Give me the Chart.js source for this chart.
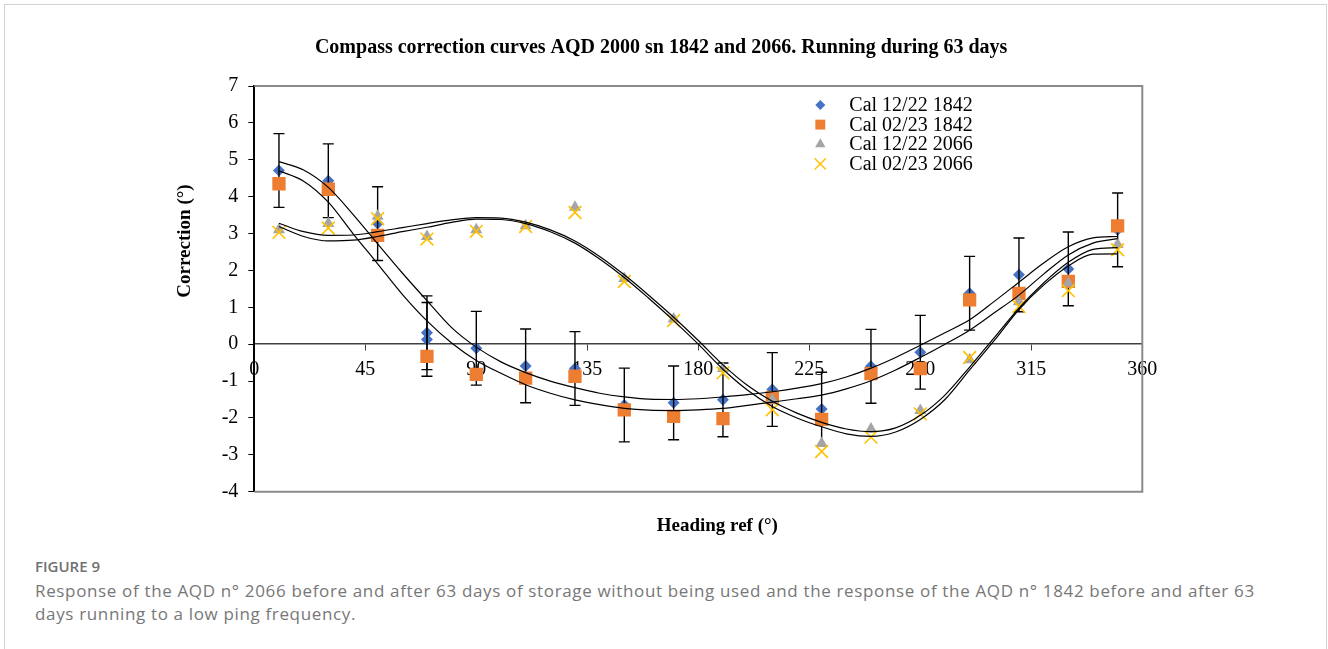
<!DOCTYPE html>
<html>
<head>
<meta charset="utf-8">
<script src="https://cdn.jsdelivr.net/npm/chart.js@4/dist/chart.umd.min.js"></script>
<style>
  html, body { margin: 0; background: #fff; overflow: hidden; }
  .frame { position: absolute; left: 4px; top: 4px; width: 1323px; height: 700px; border: 1px solid #d2d2d2; box-sizing: border-box; }
  .chart { position: absolute; left: 0; top: 0; width: 1328px; height: 545px; }
  .caption { position: absolute; left: 35px; font-family: 'Open Sans', sans-serif; color: #707070; white-space: nowrap; }
  .caption--label { top: 555px; font-size: 15px; font-weight: 600; line-height: 22px; }
  .caption--text { top: 579px; font-size: 17px; line-height: 23px; letter-spacing: 0.65px; color: #777; }
</style>
</head>
<body>
<div class="frame"></div>
<div class="chart"><canvas id="compass"></canvas></div>
<div class="caption caption--label">FIGURE 9</div>
<div class="caption caption--text">Response of the AQD n° 2066 before and after 63 days of storage without being used and the response of the AQD n° 1842 before and after 63<br>days running to a low ping frequency.</div>
<script>
const seriesLabels = ['Cal 12/22 1842', 'Cal 02/23 1842', 'Cal 12/22 2066', 'Cal 02/23 2066']
const xTicks = [0, 45, 90, 135, 180, 225, 270, 315, 360]

// heading 70 was measured twice for the 12/22 run of 1842
const headings1842a = [10, 30, 50, 70, 70, 90, 110, 130, 150, 170, 190, 210, 230, 250, 270, 290, 310, 330, 350]
const headings = [10, 30, 50, 70, 90, 110, 130, 150, 170, 190, 210, 230, 250, 270, 290, 310, 330, 350]

const cal1222_1842 = [4.71, 4.43, 3.27, 0.31, 0.13, -0.11, -0.59, -0.66, -1.65, -1.59, -1.51, -1.23, -1.76, -0.6, -0.22, 1.38, 1.88, 2.04, 3.1]
const cal0223_1842 = [4.35, 4.2, 2.95, -0.33, -0.82, -0.92, -0.87, -1.78, -1.96, -2.02, -1.45, -2.04, -0.8, -0.66, 1.2, 1.38, 1.7, 3.21]
const cal1222_2066 = [3.1, 3.27, 3.47, 2.92, 3.1, 3.21, 3.71, 1.78, 0.68, -0.66, -1.51, -2.69, -2.3, -1.8, -0.42, 1.15, 1.65, 2.7]
const cal0223_2066 = [3.03, 3.15, 3.4, 2.85, 3.06, 3.19, 3.57, 1.7, 0.64, -0.78, -1.78, -2.91, -2.52, -1.89, -0.36, 1.02, 1.45, 2.56]
const errorSize = 1

// trend curves
const trendHeadings = [10, 20, 30, 40, 50, 60, 70, 80, 90, 100, 110, 120, 130, 140, 150, 160, 170, 180, 190, 200, 210, 220, 230, 240, 250, 260, 270, 280, 290, 300, 310, 320, 330, 340, 350]
const trend1222_1842 = [4.95, 4.72, 4.25, 3.52, 2.72, 1.93, 1.18, 0.45, -0.08, -0.48, -0.77, -1.0, -1.18, -1.33, -1.43, -1.49, -1.5, -1.48, -1.43, -1.37, -1.29, -1.19, -1.07, -0.89, -0.65, -0.36, -0.03, 0.31, 0.66, 1.16, 1.68, 2.2, 2.64, 2.88, 2.92]
const trend0223_1842 = [4.7, 4.42, 3.85, 3.0, 2.18, 1.35, 0.63, 0.03, -0.44, -0.79, -1.1, -1.33, -1.51, -1.64, -1.74, -1.79, -1.8, -1.78, -1.74, -1.66, -1.57, -1.48, -1.38, -1.21, -0.99, -0.7, -0.36, 0.0, 0.38, 0.85, 1.33, 1.9, 2.42, 2.74, 2.86]
const trend1222_2066 = [3.28, 3.05, 2.95, 2.96, 3.05, 3.16, 3.27, 3.37, 3.43, 3.42, 3.31, 3.1, 2.8, 2.38, 1.88, 1.32, 0.73, 0.1, -0.56, -1.12, -1.55, -1.87, -2.12, -2.3, -2.37, -2.27, -1.93, -1.38, -0.62, 0.18, 0.98, 1.66, 2.22, 2.57, 2.62]
const trend0223_2066 = [3.19, 2.92, 2.8, 2.82, 2.92, 3.05, 3.17, 3.3, 3.39, 3.38, 3.27, 3.05, 2.74, 2.31, 1.81, 1.24, 0.64, 0.0, -0.68, -1.25, -1.69, -2.0, -2.24, -2.43, -2.5, -2.38, -2.04, -1.5, -0.7, 0.1, 0.94, 1.6, 2.12, 2.44, 2.45]

const serif = '"Liberation Serif", "Times New Roman", serif'

const markers = [
  { xs: headings1842a, ys: cal1222_1842, color: '#4472C4', style: 'rectRot', radius: 6, legendRadius: 5 },
  { xs: headings, ys: cal0223_1842, color: '#ED7D31', style: 'rect', radius: 9.4, legendRadius: 7 },
  { xs: headings, ys: cal1222_2066, color: '#A5A5A5', style: 'triangle', radius: 7, legendRadius: 6 },
  { xs: headings, ys: cal0223_2066, color: '#FFC000', style: 'crossRot', radius: 9, legendRadius: 8 },
]
const trends = [trend1222_1842, trend0223_1842, trend1222_2066, trend0223_2066]

function toPoints(xs, ys) {
  return xs.map((x, i) => ({ x, y: ys[i] }))
}

const markerDatasets = markers.map((m, i) => ({
  label: seriesLabels[i],
  data: toPoints(m.xs, m.ys),
  pointStyle: m.style,
  pointRadius: m.radius,
  backgroundColor: m.color,
  borderColor: m.color,
  pointBorderWidth: m.style === 'crossRot' ? 1.6 : 0,
  order: 4 - i,
}))

const trendDatasets = trends.map((values, i) => ({
  label: 'trend ' + seriesLabels[i],
  data: toPoints(trendHeadings, values),
  showLine: true,
  pointRadius: 0,
  borderColor: '#000',
  borderWidth: 1.2,
  cubicInterpolationMode: 'monotone',
  order: 0,
}))

const errorBars = {
  id: 'errorBars',
  afterDatasetDraw(chart, args) {
    if (args.index !== 0) return
    const { ctx, scales } = chart
    ctx.save()
    ctx.strokeStyle = '#000'
    ctx.lineWidth = 1.4
    headings1842a.forEach((h, i) => {
      const x = scales.x.getPixelForValue(h)
      const top = scales.y.getPixelForValue(cal1222_1842[i] + errorSize)
      const bottom = scales.y.getPixelForValue(cal1222_1842[i] - errorSize)
      ctx.beginPath()
      ctx.moveTo(x, top)
      ctx.lineTo(x, bottom)
      ctx.moveTo(x - 5.5, top)
      ctx.lineTo(x + 5.5, top)
      ctx.moveTo(x - 5.5, bottom)
      ctx.lineTo(x + 5.5, bottom)
      ctx.stroke()
    })
    ctx.restore()
  },
}

const plotFrame = {
  id: 'plotFrame',
  beforeDatasetsDraw(chart) {
    const { ctx, chartArea } = chart
    ctx.save()
    ctx.strokeStyle = '#8a8a8a'
    ctx.lineWidth = 2
    ctx.beginPath()
    ctx.moveTo(chartArea.left, chartArea.top)
    ctx.lineTo(chartArea.right, chartArea.top)
    ctx.lineTo(chartArea.right, chartArea.bottom)
    ctx.lineTo(chartArea.left, chartArea.bottom)
    ctx.stroke()
    ctx.restore()
  },
}

const axisTitles = {
  id: 'axisTitles',
  afterDraw(chart) {
    const { ctx, chartArea } = chart
    ctx.save()
    ctx.fillStyle = '#000'
    ctx.font = 'bold 19px ' + serif
    ctx.textAlign = 'center'
    ctx.textBaseline = 'middle'
    ctx.fillText('Heading ref (°)', chartArea.left + 463, chartArea.bottom + 34)
    ctx.translate(chartArea.left - 69, chartArea.top + 155)
    ctx.rotate(-Math.PI / 2)
    ctx.fillText('Correction (°)', 0, 0)
    ctx.restore()
  },
}

const insideLegend = {
  id: 'insideLegend',
  afterDraw(chart) {
    const { ctx, chartArea } = chart
    const markerX = chartArea.left + 566
    const textX = chartArea.left + 595
    ctx.save()
    ctx.font = '20px ' + serif
    ctx.textBaseline = 'middle'
    markers.forEach((m, i) => {
      const y = chartArea.top + 19 + i * 19.6
      ctx.fillStyle = m.color
      ctx.strokeStyle = m.color
      ctx.lineWidth = 1.4
      Chart.helpers.drawPoint(ctx, {
        pointStyle: m.style,
        radius: m.legendRadius,
        rotation: 0,
        borderWidth: m.style === 'crossRot' ? 1.4 : 0,
      }, markerX, y)
      ctx.fillStyle = '#000'
      ctx.fillText(seriesLabels[i], textX, y + 1)
    })
    ctx.restore()
  },
}

new Chart(document.getElementById('compass'), {
  type: 'scatter',
  data: { datasets: markerDatasets.concat(trendDatasets) },
  plugins: [plotFrame, errorBars, axisTitles, insideLegend],
  options: {
    responsive: true,
    maintainAspectRatio: false,
    animation: false,
    events: [],
    layout: { padding: { left: 180, right: 185.7, top: 0, bottom: 53.3 } },
    plugins: {
      legend: { display: false },
      tooltip: { enabled: false },
      title: {
        display: true,
        text: 'Compass correction curves AQD 2000 sn 1842 and 2066. Running during 63 days',
        color: '#000',
        font: { family: serif, size: 20, weight: 'bold', lineHeight: 1.2 },
        padding: { top: 36, bottom: 26 },
      },
    },
    scales: {
      x: {
        type: 'linear',
        position: { y: 0 },
        min: 0,
        max: 360,
        afterBuildTicks(scale) {
          scale.ticks = xTicks.map(v => ({ value: v }))
        },
        grid: { drawOnChartArea: false, drawTicks: true, tickLength: 6, color: '#404040' },
        border: { color: '#404040', width: 1.5 },
        ticks: { color: '#000', padding: 8, autoSkip: false, maxRotation: 0, font: { family: serif, size: 20 } },
      },
      y: {
        type: 'linear',
        min: -4,
        max: 7,
        afterFit(scale) {
          scale.width = 74.3
        },
        grid: { drawOnChartArea: false, drawTicks: true, tickLength: 6, color: '#000' },
        border: { color: '#000', width: 2 },
        ticks: { stepSize: 1, color: '#000', padding: 10, font: { family: serif, size: 20 } },
      },
    },
  },
})
</script>
</body>
</html>
